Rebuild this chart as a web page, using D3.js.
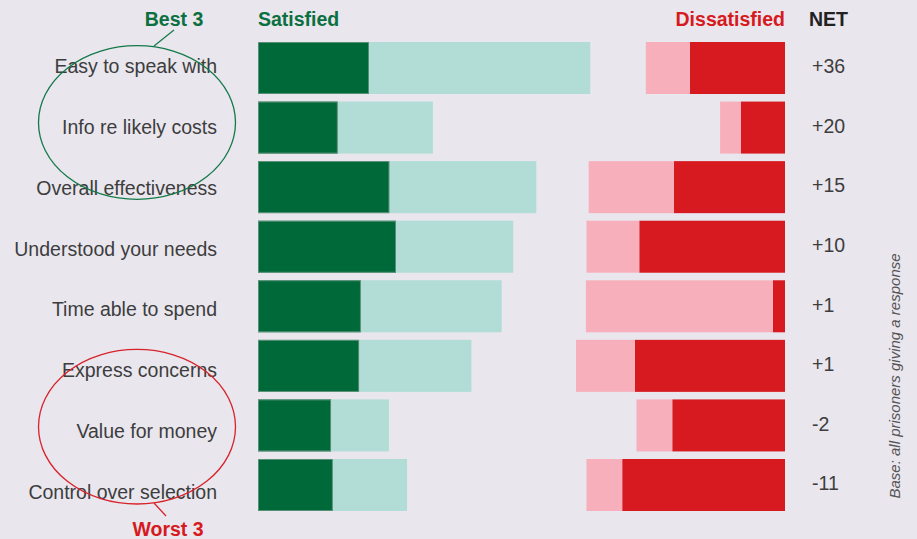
<!DOCTYPE html>
<html>
<head>
<meta charset="utf-8">
<script src="https://cdn.jsdelivr.net/npm/d3@7"></script>
<style>
  html, body { margin: 0; padding: 0; background: #e9e6ee; }
  svg { display: block; }
  text { font-family: "Liberation Sans", Arial, Helvetica, sans-serif; }
</style>
</head>
<body>
<svg id="chart" width="917" height="539"></svg>
<script>
// ---- data (percentages) ----
const categories = [
  "Easy to speak with",
  "Info re likely costs",
  "Overall effectiveness",
  "Understood your needs",
  "Time able to spend",
  "Express concerns",
  "Value for money",
  "Control over selection"
];
const verySatisfied    = [20.2, 14.5, 23.9, 25.1, 18.7, 18.4, 13.3, 13.6];
const fairlySatisfied  = [40.2, 17.3, 26.7, 21.3, 25.6, 20.4, 10.5, 13.5];
const fairlyDissatisfied = [8.0, 3.8, 15.5, 9.6, 34.0, 10.7, 6.5, 6.5];
const veryDissatisfied = [17.3, 8.0, 20.2, 26.5, 2.2, 27.3, 20.5, 29.6];
const netLabels = ["+36", "+20", "+15", "+10", "+1", "+1", "-2", "-11"];

// ---- layout ----
const C = {
  darkGreen: "#00693a", lightGreen: "#b1ddd6",
  pink: "#f7b0bb", red: "#d71920",
  text: "#3d3d3d", greenText: "#0b7040", redText: "#d71920"
};
const satStart = 258, disEnd = 785;

const svg = d3.select("#chart");
svg.append("rect").attr("width", 917).attr("height", 539).attr("fill", "#e9e6ee");

const x = d3.scaleLinear().domain([0, 100]).range([0, 550]);
const y = d3.scaleBand().domain(categories).range([42, 511]).paddingInner(0.127).paddingOuter(0);
const yLabel = d3.scalePoint().domain(categories).range([66.5, 492]);

const rows = categories.map((c, i) => ({
  c, vs: verySatisfied[i], fs: fairlySatisfied[i],
  fd: fairlyDissatisfied[i], vd: veryDissatisfied[i], net: netLabels[i]
}));

const g = svg.append("g");

// satisfied: dark green (very) then light (fairly)
g.selectAll("rect.vs").data(rows).join("rect")
  .attr("x", satStart).attr("y", d => y(d.c))
  .attr("width", d => x(d.vs)).attr("height", y.bandwidth())
  .attr("fill", C.darkGreen);
g.selectAll("rect.fs").data(rows).join("rect")
  .attr("x", d => satStart + x(d.vs)).attr("y", d => y(d.c))
  .attr("width", d => x(d.fs)).attr("height", y.bandwidth())
  .attr("fill", C.lightGreen);
g.selectAll("rect.vsEdge").data(rows).join("rect")
  .attr("x", satStart + 0.5).attr("y", d => y(d.c) + 0.5)
  .attr("width", d => x(d.vs) - 1).attr("height", y.bandwidth() - 1)
  .attr("fill", "none").attr("stroke", "#6c9a84").attr("stroke-width", 0.8);

// dissatisfied: red (very) at the right, pink (fairly) to its left
g.selectAll("rect.vd").data(rows).join("rect")
  .attr("x", d => disEnd - x(d.vd)).attr("y", d => y(d.c))
  .attr("width", d => x(d.vd)).attr("height", y.bandwidth())
  .attr("fill", C.red);
g.selectAll("rect.fd").data(rows).join("rect")
  .attr("x", d => disEnd - x(d.vd) - x(d.fd)).attr("y", d => y(d.c))
  .attr("width", d => x(d.fd)).attr("height", y.bandwidth())
  .attr("fill", C.pink);

// category labels
g.selectAll("text.cat").data(rows).join("text")
  .attr("x", 217).attr("y", d => yLabel(d.c)).attr("dy", "0.35em")
  .attr("text-anchor", "end").attr("font-size", 19.5).attr("fill", C.text)
  .text(d => d.c);

// NET labels
g.selectAll("text.net").data(rows).join("text")
  .attr("x", 812).attr("y", d => y(d.c) + y.bandwidth() / 2 - 1.5).attr("dy", "0.35em")
  .attr("text-anchor", "start").attr("font-size", 19.5).attr("fill", C.text)
  .text(d => d.net);

// headers
const hdr = (t, xx, anchor, fill) => svg.append("text")
  .attr("x", xx).attr("y", 26).attr("text-anchor", anchor)
  .attr("font-size", 19.5).attr("font-weight", "bold").attr("fill", fill).text(t);
hdr("Best 3", 174, "middle", C.greenText);
hdr("Satisfied", satStart, "start", C.greenText);
hdr("Dissatisfied", disEnd, "end", C.redText);
hdr("NET", 809, "start", "#222");

// Best / Worst annotations
svg.append("ellipse").attr("cx", 137).attr("cy", 122.5).attr("rx", 98.5).attr("ry", 76.8)
  .attr("fill", "none").attr("stroke", "#137a47").attr("stroke-width", 1.3);
svg.append("line").attr("x1", 154).attr("y1", 46).attr("x2", 174).attr("y2", 30)
  .attr("stroke", "#137a47").attr("stroke-width", 1.3);

svg.append("ellipse").attr("cx", 137).attr("cy", 426.7).attr("rx", 98.5).attr("ry", 77.3)
  .attr("fill", "none").attr("stroke", "#d8222a").attr("stroke-width", 1.3);
svg.append("line").attr("x1", 154).attr("y1", 503).attr("x2", 166).attr("y2", 516)
  .attr("stroke", "#d8222a").attr("stroke-width", 1.3);
svg.append("text").attr("x", 168).attr("y", 535.5).attr("text-anchor", "middle")
  .attr("font-size", 19.5).attr("font-weight", "bold").attr("fill", C.redText).text("Worst 3");

// base note
svg.append("text")
  .attr("transform", "translate(900,376) rotate(-90)")
  .attr("text-anchor", "middle").attr("font-size", 15).attr("font-style", "italic")
  .attr("fill", "#555").text("Base: all prisoners giving a response");
</script>
</body>
</html>
